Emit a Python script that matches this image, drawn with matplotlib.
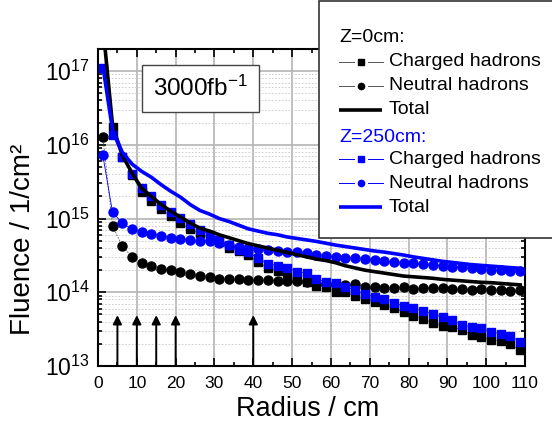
import numpy as np
import matplotlib
matplotlib.use('Agg')
import matplotlib.pyplot as plt
from matplotlib.patches import Rectangle
from matplotlib.ticker import MultipleLocator, LogLocator, NullFormatter

plt.rcParams['font.family'] = ['Liberation Sans', 'DejaVu Sans']
plt.rcParams['mathtext.fontset'] = 'custom'
plt.rcParams['mathtext.rm'] = 'Liberation Sans'
plt.rcParams['mathtext.it'] = 'Liberation Sans:italic'

# radius bin centres in cm
radius = [1.25, 3.75, 6.25, 8.75, 11.25, 13.75, 16.25, 18.75, 21.25, 23.75,
          26.25, 28.75, 31.25, 33.75, 36.25, 38.75, 41.25, 43.75, 46.25, 48.75,
          51.25, 53.75, 56.25, 58.75, 61.25, 63.75, 66.25, 68.75, 71.25, 73.75,
          76.25, 78.75, 81.25, 83.75, 86.25, 88.75, 91.25, 93.75, 96.25, 98.75,
          101.25, 103.75, 106.25, 108.75]

# log10 of fluence (1/cm^2)
log_charged_z0 = [17.60, 16.24, 15.83, 15.59, 15.36, 15.24, 15.13, 15.03, 14.94, 14.86,
                  14.80, 14.74, 14.68, 14.60, 14.56, 14.505, 14.414, 14.333, 14.288, 14.22,
                  14.175, 14.143, 14.085, 14.067, 14.007, 13.999, 13.949, 13.904, 13.872, 13.827,
                  13.782, 13.736, 13.678, 13.637, 13.587, 13.542, 13.533, 13.488, 13.42, 13.397,
                  13.353, 13.343, 13.298, 13.217]
log_neutral_z0 = [16.11, 14.90, 14.627, 14.48, 14.40, 14.36, 14.32, 14.30, 14.27, 14.25,
                  14.22, 14.21, 14.18, 14.18, 14.175, 14.166, 14.166, 14.164, 14.15, 14.15,
                  14.148, 14.143, 14.125, 14.11, 14.105, 14.10, 14.108, 14.075, 14.075, 14.06,
                  14.06, 14.065, 14.044, 14.057, 14.053, 14.053, 14.04, 14.04, 14.037, 14.04,
                  14.03, 14.03, 14.017, 14.026]
log_total_z0 = [17.62, 16.26, 15.86, 15.62, 15.41, 15.30, 15.19, 15.10, 15.02, 14.94,
                14.87, 14.83, 14.78, 14.74, 14.70, 14.66, 14.63, 14.60, 14.57, 14.54,
                14.51, 14.48, 14.45, 14.43, 14.40, 14.36, 14.33, 14.30, 14.28, 14.26,
                14.24, 14.22, 14.21, 14.20, 14.19, 14.175, 14.165, 14.155, 14.145, 14.135,
                14.13, 14.12, 14.11, 14.10]

log_charged_z250 = [17.04, 16.14, 15.84, 15.60, 15.41, 15.30, 15.18, 15.09, 15.01, 14.93,
                    14.85, 14.78, 14.71, 14.64, 14.58, 14.54, 14.46, 14.39, 14.36, 14.33,
                    14.28, 14.26, 14.18, 14.14, 14.12, 14.07, 14.03, 13.98, 13.94, 13.91,
                    13.86, 13.81, 13.78, 13.746, 13.705, 13.66, 13.624, 13.556, 13.533, 13.511,
                    13.465, 13.434, 13.407, 13.33]
log_neutral_z250 = [15.857, 15.084, 14.94, 14.853, 14.817, 14.794, 14.767, 14.74, 14.722, 14.708,
                    14.70, 14.695, 14.668, 14.64, 14.614, 14.596, 14.582, 14.573, 14.56, 14.55,
                    14.54, 14.528, 14.512, 14.498, 14.48, 14.471, 14.46, 14.45, 14.44, 14.424,
                    14.406, 14.401, 14.392, 14.379, 14.375, 14.356, 14.348, 14.34, 14.325, 14.316,
                    14.30, 14.30, 14.295, 14.295]
log_total_z250 = [17.07, 16.20, 15.90, 15.74, 15.64, 15.56, 15.46, 15.37, 15.29, 15.19,
                  15.11, 15.06, 15.00, 14.96, 14.91, 14.86, 14.83, 14.80, 14.78, 14.75,
                  14.73, 14.71, 14.69, 14.665, 14.64, 14.62, 14.60, 14.58, 14.56, 14.545,
                  14.525, 14.505, 14.48, 14.46, 14.44, 14.42, 14.405, 14.39, 14.375, 14.365,
                  14.355, 14.345, 14.335, 14.325]

arrow_radii = [5, 10, 15, 20, 40]
arrow_tip = 4.9e13

blue = '#0000ff'

fig = plt.figure(figsize=(5.52, 4.34), dpi=100)
ax = fig.add_axes([98/552, 1-366/434, 427/552, 317/434])

r = np.array(radius)
f = lambda v: 10 ** np.array(v)

# thin connecting lines (Origin style), markers on top
ax.plot(r, f(log_charged_z0), '-', color='#666666', lw=0.5, zorder=2)
ax.plot(r, f(log_neutral_z0), '--', color='#666666', lw=0.6, dashes=(2, 1.5), zorder=2)
ax.plot(r, f(log_charged_z250), '-', color=blue, lw=0.5, zorder=2)
ax.plot(r, f(log_neutral_z250), '-', color=blue, lw=0.6, zorder=2)

ax.plot(r, f(log_charged_z0), 's', color='black', ms=6, zorder=3)
ax.plot(r, f(log_neutral_z0), 'o', color='black', ms=6.5, zorder=3)
ax.plot(r, f(log_charged_z250), 's', color=blue, ms=6, zorder=3)
ax.plot(r, f(log_neutral_z250), 'o', color=blue, ms=6.5, zorder=3)
# totals
ax.plot(r, f(log_total_z0), '-', color='black', lw=2.6, zorder=4)
ax.plot(r, f(log_total_z250), '-', color=blue, lw=2.6, zorder=4)

for xa in arrow_radii:
    ax.annotate('', xy=(xa, arrow_tip), xytext=(xa, 1e13),
                arrowprops=dict(arrowstyle='-|>', color='black', lw=1.4,
                                mutation_scale=13, shrinkA=0, shrinkB=0))

ax.set_yscale('log')
ax.set_xlim(0, 110)
ax.set_ylim(1e13, 10 ** 17.3)
ax.xaxis.set_major_locator(MultipleLocator(10))
ax.xaxis.set_minor_locator(MultipleLocator(5))
ax.yaxis.set_major_locator(LogLocator(base=10, numticks=10))
ax.yaxis.set_minor_locator(LogLocator(base=10, subs=np.arange(2, 10), numticks=20))
ax.yaxis.set_minor_formatter(NullFormatter())

ax.grid(True, which='major', color='#b4b4b4', lw=1.2, ls='-')
ax.grid(True, which='minor', axis='y', color='#c8c8c8', lw=0.6, ls=(0, (2, 2)))
ax.set_axisbelow(True)

ax.tick_params(which='both', direction='in', top=True, right=True, width=1.2)
ax.tick_params(which='major', length=6)
ax.tick_params(which='minor', length=3)
ax.tick_params(axis='x', labelsize=12.5, pad=7)
ax.tick_params(axis='y', labelsize=16.5, pad=6)
for s in ax.spines.values():
    s.set_linewidth(1.5)

ax.set_xlabel('Radius / cm', fontsize=19.5)
ax.set_ylabel('Fluence / 1/cm²', fontsize=20)
ax.xaxis.set_label_coords(0.49, -0.095)
ax.yaxis.set_label_coords(-0.145, 0.4)

ax.text(0.24, 0.875, '3000fb$^{-1}$', transform=ax.transAxes, fontsize=17.5,
        ha='center', va='center',
        bbox=dict(boxstyle='square,pad=0.45', fc='white', ec='#444444', lw=1))

# legend drawn in pixel coordinates on an overlay
ov = fig.add_axes([0, 0, 1, 1], zorder=5)
ov.set_xlim(0, 552)
ov.set_ylim(434, 0)
ov.axis('off')
ov.add_patch(Rectangle((319, 1), 300, 237, fc='white', ec='#333333', lw=1.2, clip_on=False))

legend_rows = [
    ('Z=0cm:', None, 'black', 38),
    ('Charged hadrons', 's', 'black', 62),
    ('Neutral hadrons', 'o', 'black', 86),
    ('Total', 'line', 'black', 110),
    ('Z=250cm:', None, blue, 137),
    ('Charged hadrons', 's', blue, 159),
    ('Neutral hadrons', 'o', blue, 183),
    ('Total', 'line', blue, 207),
]
for label, kind, col, yy in legend_rows:
    if kind is None:
        ov.text(339, yy, label, color=col, fontsize=14, va='center', ha='left')
        continue
    if kind == 'line':
        ov.plot([339, 382], [yy, yy], color=col, lw=2.6, solid_capstyle='butt')
    else:
        lc = '#555555' if col == 'black' else col
        ov.plot([339, 354], [yy, yy], color=lc, lw=0.7)
        ov.plot([368, 383], [yy, yy], color=lc, lw=0.7)
        ov.plot([361], [yy], marker=kind, color=col, ms=4.5, ls='none')
    ov.text(389, yy, label, color='black', fontsize=14, va='center', ha='left')

plt.savefig('out.png', dpi=100)
